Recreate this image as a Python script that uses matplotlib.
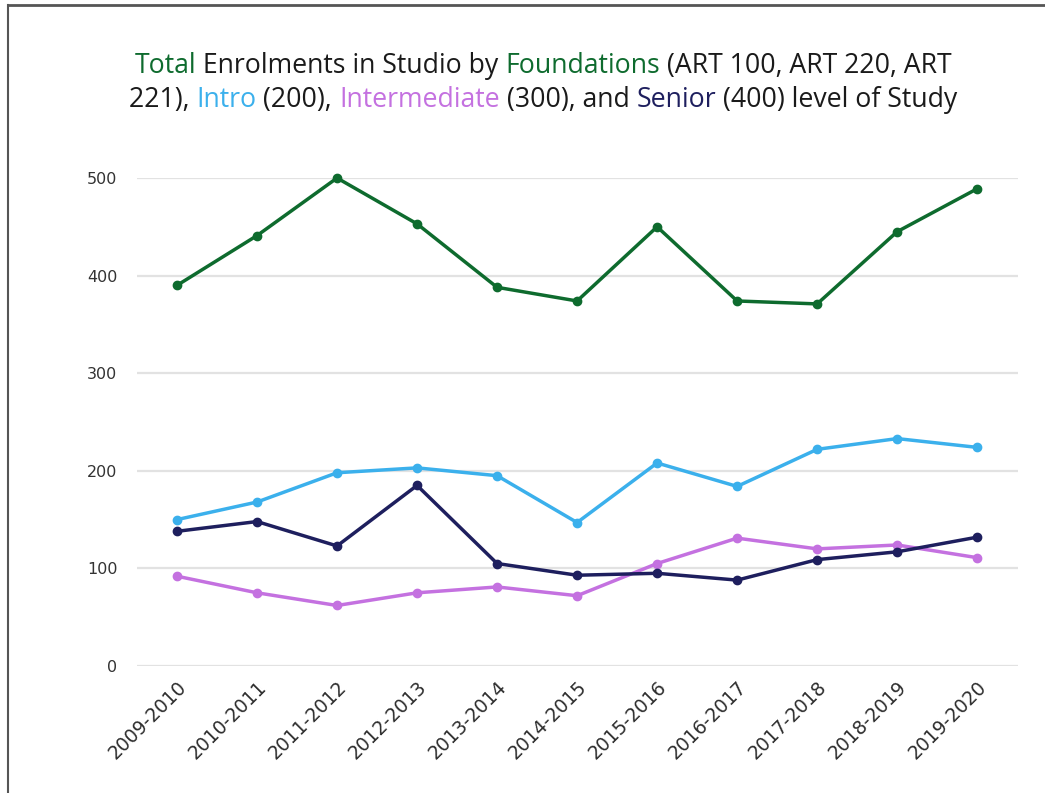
import matplotlib

matplotlib.use("Agg")
import matplotlib.pyplot as plt
from matplotlib.lines import Line2D

# Academic years and enrolment counts
years = [
    "2009-2010", "2010-2011", "2011-2012", "2012-2013", "2013-2014", "2014-2015",
    "2015-2016", "2016-2017", "2017-2018", "2018-2019", "2019-2020",
]
foundations = [390, 441, 500, 453, 388, 374, 450, 374, 371, 445, 489]
intro = [150, 168, 198, 203, 195, 147, 208, 184, 222, 233, 224]
intermediate = [92, 75, 62, 75, 81, 72, 105, 131, 120, 124, 111]
senior = [138, 148, 123, 185, 105, 93, 95, 88, 109, 117, 132]

GREEN = "#0e6b2e"
BLUE = "#3bb0ec"
PURPLE = "#c471e0"
NAVY = "#1e1f5e"
TEXT = "#1a1a1a"

title_lines = [
    [("Total", GREEN), (" Enrolments in Studio by ", TEXT), ("Foundations", GREEN),
     (" (ART 100, ART 220, ART", TEXT)],
    [("221), ", TEXT), ("Intro", BLUE), (" (200), ", TEXT), ("Intermediate", PURPLE),
     (" (300), and ", TEXT), ("Senior", NAVY), (" (400) level of Study", TEXT)],
]

W, H = 1045, 793
fig = plt.figure(figsize=(W / 100, H / 100), dpi=100)
ax = fig.add_axes([137 / W, 1 - 666 / H, (1018 - 137) / W, (666 - 178) / H])

x = list(range(len(years)))
for vals, col in [(foundations, GREEN), (intro, BLUE), (intermediate, PURPLE), (senior, NAVY)]:
    ax.plot(x, vals, color=col, lw=2.5, marker="o", ms=6, clip_on=False, zorder=3)

ax.set_xlim(-0.5, 10.51)
ax.set_ylim(0, 500)
ax.set_yticks(range(0, 501, 100))
ax.set_xticks(x)
ax.set_xticklabels(years, rotation=45, ha="right", va="top", rotation_mode="anchor",
                   fontsize=13.5, color="#2e2e2e", family="DejaVu Sans")
ax.tick_params(axis="y", length=0, pad=14, labelsize=11.5, labelcolor="#333333")
ax.tick_params(axis="x", length=0, pad=8)
ax.grid(axis="y", color="#e2e2e2", lw=1.6)
ax.set_axisbelow(True)
for s in ax.spines.values():
    s.set_visible(False)

# multi-coloured title, pieces laid side by side and centred
renderer = fig.canvas.get_renderer()
for pieces, ypix in zip(title_lines, [66, 100]):
    texts = [fig.text(0, 1 - ypix / H, s, color=c, fontsize=19.2, family="Open Sans",
                      va="center", ha="left") for s, c in pieces]
    widths = [t.get_window_extent(renderer).width for t in texts]
    start = 543 - sum(widths) / 2
    for t, w in zip(texts, widths):
        t.set_x(start / W)
        start += w

# frame visible at top and left edge of the reference image
fig.add_artist(Line2D([8 / W, 1], [1 - 5 / H, 1 - 5 / H], color="#555555", lw=2))
fig.add_artist(Line2D([8 / W, 8 / W], [0, 1 - 5 / H], color="#555555", lw=1.5))

fig.savefig("out.png", dpi=100)
